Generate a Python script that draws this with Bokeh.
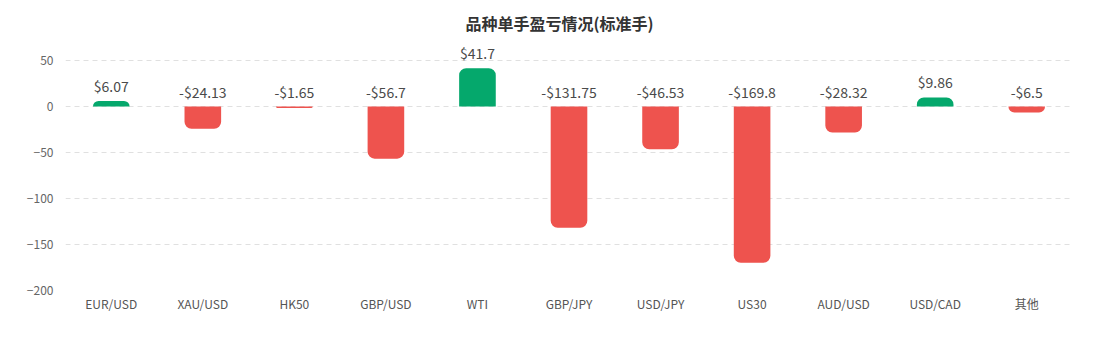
from bokeh.plotting import figure
from bokeh.models import ColumnDataSource, Range1d, FixedTicker, FactorRange
from bokeh.core.properties import value
from bokeh.embed import file_html
from bokeh.resources import INLINE

title_text = "品种单手盈亏情况(标准手)"
categories = ["EUR/USD", "XAU/USD", "HK50", "GBP/USD", "WTI", "GBP/JPY",
              "USD/JPY", "US30", "AUD/USD", "USD/CAD", "其他"]
values = [6.07, -24.13, -1.65, -56.7, 41.7, -131.75, -46.53, -169.8, -28.32, 9.86, -6.5]
y_ticks = [50, 0, -50, -100, -150, -200]

GREEN = "#05A86C"
RED = "#EE534E"
FONT = "Noto Sans CJK SC"

def fmt(v):
    return ("-$" if v < 0 else "$") + f"{abs(v):g}"

pos = [(c, v) for c, v in zip(categories, values) if v >= 0]
neg = [(c, v) for c, v in zip(categories, values) if v < 0]

src_pos = ColumnDataSource(dict(x=[c for c, _ in pos], top=[v for _, v in pos],
                                bottom=[0] * len(pos)))
src_neg = ColumnDataSource(dict(x=[c for c, _ in neg], top=[0] * len(neg),
                                bottom=[v for _, v in neg]))
src_lab = ColumnDataSource(dict(x=categories, y=[max(v, 0) for v in values],
                                t=[fmt(v) for v in values]))

W, H = 1118, 338
left, right, top, bottom = 65, 46, 0, 48
px_per_unit = 0.92
frame_h = H - top - bottom
y_end = -200 + frame_h / px_per_unit

p = figure(width=W, height=H, x_range=FactorRange(*categories, range_padding=0),
           y_range=Range1d(-200, y_end), output_backend="svg", toolbar_location=None,
           min_border_left=left, min_border_right=right, min_border_top=top,
           min_border_bottom=bottom)
p.outline_line_color = None
p.background_fill_color = "white"
p.border_fill_color = "white"

p.vbar(x="x", top="top", bottom="bottom", width=0.4, source=src_pos,
       fill_color=GREEN, line_color=None, border_radius=(7, 7, 0, 0))
p.vbar(x="x", top="top", bottom="bottom", width=0.4, source=src_neg,
       fill_color=RED, line_color=None, border_radius=(0, 0, 7, 7))

p.text(x="x", y="y", text="t", source=src_lab, text_align="center",
       text_baseline="bottom", y_offset=-5, text_font=value(FONT),
       text_font_size="14px", text_color="#4a4a4a")

# title
title_x = (559 - left) / (W - left - right) * len(categories)
title_y = y_end - 22 / px_per_unit
p.text(x=[title_x], y=[title_y], text=[title_text], text_align="center",
       text_baseline="middle", text_font=value(FONT), text_font_size="16px",
       text_font_style="bold", text_color="#333333")

p.xgrid.grid_line_color = None
p.ygrid.grid_line_color = "#E0E0E0"
p.ygrid.grid_line_dash = "5 4"
p.ygrid.ticker = FixedTicker(ticks=y_ticks)

p.yaxis.ticker = FixedTicker(ticks=y_ticks)
p.yaxis.axis_line_color = None
p.yaxis.major_tick_line_color = None
p.yaxis.minor_tick_line_color = None
p.yaxis.major_label_standoff = 6
p.yaxis.major_label_text_font = FONT
p.yaxis.major_label_text_font_size = "12px"
p.yaxis.major_label_text_color = "#666666"

p.xaxis.axis_line_color = None
p.xaxis.major_tick_line_color = None
p.xaxis.minor_tick_line_color = None
p.xaxis.major_label_standoff = -2
p.xaxis.major_label_text_font = FONT
p.xaxis.major_label_text_font_size = "12px"
p.xaxis.major_label_text_color = "#555555"

open("out.html", "w").write(file_html(p, INLINE))
